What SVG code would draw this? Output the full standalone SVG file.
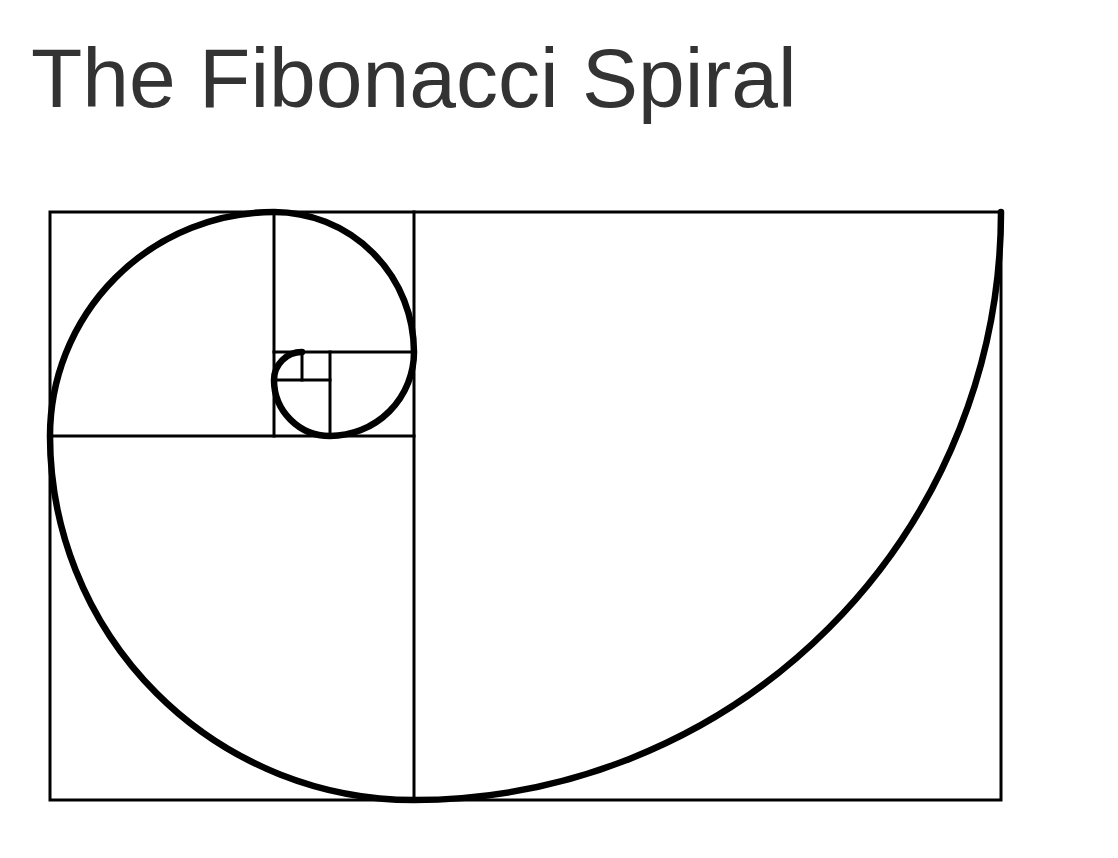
<svg xmlns="http://www.w3.org/2000/svg" width="1118" height="858" viewBox="0 0 1118 858">
<style>
.title{font-family:"Liberation Sans",Arial,sans-serif;font-size:84px;fill:#333333}
.grid{fill:none;stroke:#000;stroke-width:3;stroke-linecap:square}
.spiral{fill:none;stroke:#000;stroke-width:6.5;stroke-linecap:round}
</style>
<rect width="1118" height="858" fill="#fff"/>
<text class="title" x="31" y="107">The Fibonacci Spiral</text>
<g id="squares">
<rect class="grid" x="50" y="212" width="951" height="588"/>
<line class="grid" x1="414" y1="212" x2="414" y2="800"/>
<line class="grid" x1="50" y1="436" x2="414" y2="436"/>
<line class="grid" x1="274" y1="212" x2="274" y2="436"/>
<line class="grid" x1="274" y1="352" x2="414" y2="352"/>
<line class="grid" x1="330" y1="352" x2="330" y2="436"/>
<line class="grid" x1="274" y1="380" x2="330" y2="380"/>
<line class="grid" x1="302" y1="352" x2="302" y2="380"/>
</g>
<g id="spiral">
<path class="spiral" d="M1001,212 A587,588 0 0 1 414,800 A364,364 0 0 1 50,436 A224,224 0 0 1 274,212 A140,140 0 0 1 414,352 A84,84 0 0 1 330,436 A56,56 0 0 1 274,380 A28,28 0 0 1 302,352"/>
</g>
</svg>
